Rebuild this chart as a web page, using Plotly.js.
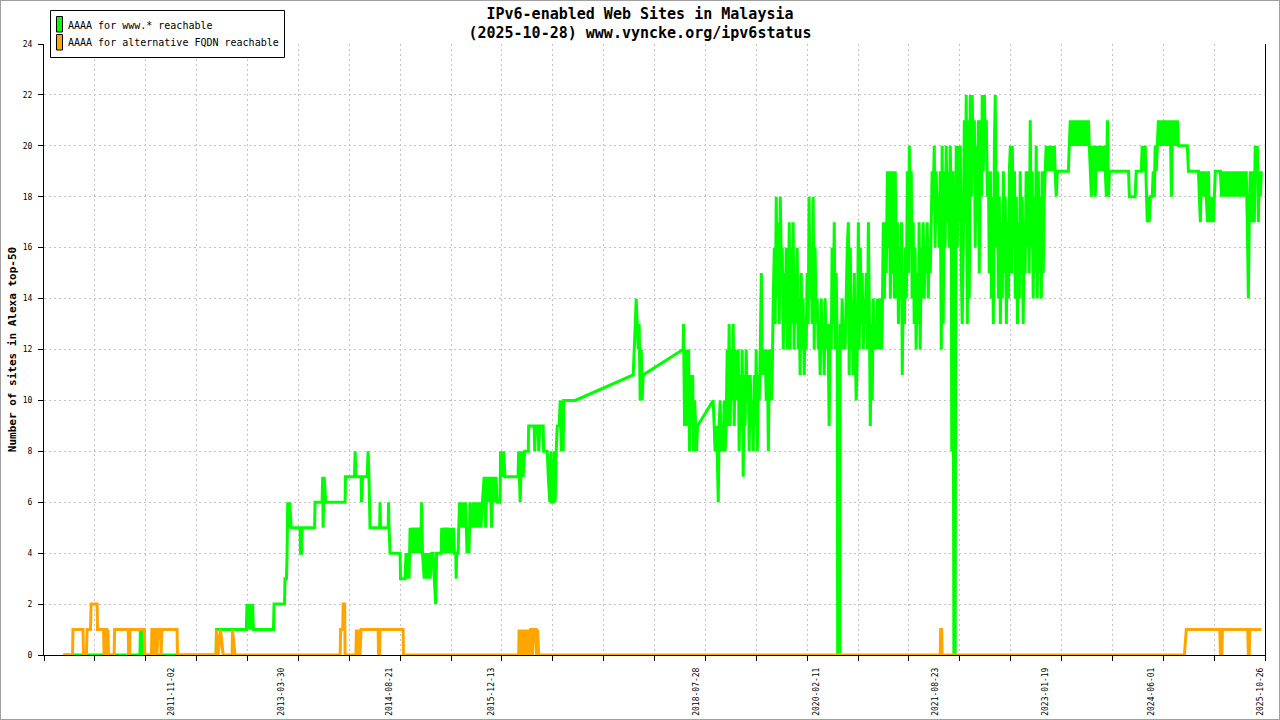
<!DOCTYPE html>
<html>
<head>
<meta charset="utf-8">
<script src="https://cdn.plot.ly/plotly-3.0.1.min.js"></script>
<style>
  body { margin: 0; background: #fff; }
  #wrap { position: relative; width: 1280px; height: 720px; }
  #frame { position: absolute; left: 0; top: 0; width: 1278px; height: 718px; border: 1px solid #a0a0a0; pointer-events: none; }
</style>
</head>
<body>
<div id="wrap">
  <div id="chart" style="width:1280px;height:720px;"></div>
  <div id="frame"></div>
</div>
<script>
// days counted from 2010-01-01, values = sites reachable
var greenDay = [
  147, 503, 505, 515, 517, 860, 862, 1002, 1005, 1011, 1016, 1024, 1031, 1035,
  1129, 1132, 1181, 1183, 1190, 1193, 1196, 1202, 1206, 1212, 1254, 1256, 1261, 1263,
  1322, 1324, 1357, 1360, 1362, 1367, 1374, 1465, 1467, 1509, 1512, 1516, 1540, 1542,
  1547, 1568, 1573, 1577, 1582, 1627, 1629, 1631, 1667, 1669, 1671, 1676, 1723, 1725,
  1746, 1751, 1756, 1760, 1765, 1770, 1777, 1784, 1791, 1798, 1805, 1812, 1819, 1824,
  1828, 1836, 1843, 1850, 1857, 1864, 1871, 1878, 1883, 1890, 1894, 1916, 1918, 1925,
  1932, 1939, 1946, 1953, 1960, 1966, 1973, 1977, 1984, 1986, 1988, 1995, 1998, 2002,
  2009, 2016, 2023, 2030, 2037, 2042, 2046, 2051, 2060, 2067, 2074, 2081, 2088, 2095,
  2102, 2109, 2117, 2124, 2131, 2138, 2145, 2152, 2159, 2166, 2173, 2178, 2192, 2194,
  2201, 2208, 2215, 2276, 2279, 2286, 2293, 2300, 2307, 2324, 2326, 2352, 2354, 2359,
  2371, 2373, 2378, 2394, 2396, 2413, 2418, 2425, 2430, 2434, 2441, 2446, 2450, 2455,
  2460, 2469, 2474, 2479, 2483, 2488, 2490, 2544, 2816, 2821, 2826, 2830, 2835, 2840,
  2844, 2849, 2854, 2858, 2863, 3050, 3052, 3057, 3062, 3066, 3071, 3076, 3080, 3085,
  3090, 3095, 3099, 3104, 3109, 3113, 3118, 3191, 3196, 3200, 3205, 3210, 3215, 3219,
  3224, 3229, 3233, 3238, 3243, 3247, 3252, 3257, 3261, 3266, 3271, 3276, 3280, 3285,
  3290, 3294, 3299, 3304, 3309, 3313, 3318, 3323, 3327, 3332, 3337, 3341, 3346, 3351,
  3356, 3360, 3365, 3370, 3374, 3379, 3384, 3388, 3393, 3398, 3403, 3407,
  3412, 3417, 3421, 3426, 3431, 3435, 3440, 3445, 3450, 3454,
  3459, 3464, 3468, 3473, 3478, 3482, 3487, 3492, 3497, 3501,
  3506, 3511, 3515, 3520, 3525, 3529, 3534, 3539, 3544, 3548,
  3552, 3557, 3561, 3566, 3571, 3575, 3580, 3585, 3590, 3594,
  3599, 3604, 3608, 3613, 3618, 3622, 3627, 3632, 3637, 3641,
  3646, 3651, 3655, 3660, 3665, 3669, 3674, 3679, 3684, 3688,
  3693, 3698, 3702, 3707, 3712, 3716, 3721, 3726, 3731, 3735,
  3740, 3745, 3749, 3754, 3759, 3763, 3768, 3773, 3775, 3785,
  3787, 3792, 3796, 3801, 3806, 3810, 3815, 3820, 3825, 3829,
  3834, 3839, 3843, 3848, 3853, 3857, 3862, 3867, 3872, 3876,
  3881, 3886, 3890, 3895, 3900, 3904, 3909, 3914, 3919, 3923,
  3928, 3933, 3937, 3942, 3947, 3951, 3956, 3961, 3966, 3970,
  3975, 3980, 3984, 3989, 3994, 3998, 4003, 4008, 4013, 4017,
  4022, 4027, 4031, 4036, 4041, 4045, 4050, 4055, 4060, 4064,
  4069, 4074, 4078, 4083, 4088, 4092, 4097, 4102, 4107, 4111,
  4115, 4120, 4124, 4129, 4134, 4138, 4143, 4148, 4153, 4157,
  4162, 4167, 4171, 4176, 4181, 4185, 4190, 4195, 4200, 4204,
  4209, 4214, 4218, 4223, 4228, 4232, 4237, 4242, 4247, 4251,
  4256, 4261, 4265, 4270, 4275, 4279, 4284, 4289, 4294, 4298,
  4303, 4308, 4310, 4315, 4320, 4326, 4329, 4331, 4336, 4341, 4345,
  4350, 4355, 4359, 4364, 4369, 4373, 4378, 4383, 4388, 4392,
  4397, 4402, 4406, 4411, 4416, 4420, 4425, 4430, 4435, 4439,
  4444, 4449, 4453, 4458, 4463, 4467, 4472, 4477, 4482, 4486,
  4491, 4496, 4500, 4505, 4510, 4514, 4519, 4524, 4529, 4533,
  4538, 4543, 4547, 4552, 4557, 4561, 4566, 4571, 4576, 4580,
  4585, 4590, 4594, 4599, 4604, 4608, 4613, 4618, 4623, 4627,
  4631, 4636, 4640, 4645, 4650, 4654, 4659, 4664, 4669, 4673,
  4678, 4683, 4687, 4692, 4697, 4701, 4706, 4711, 4716, 4720,
  4725, 4730, 4734, 4739, 4744, 4748, 4753, 4758, 4763, 4767,
  4772, 4777, 4781, 4786, 4791, 4795, 4800, 4805, 4810, 4857, 4861,
  4866, 4871, 4875, 4880, 4885, 4889, 4894, 4899, 4904, 4908,
  4913, 4918, 4922, 4927, 4932, 4936, 4941, 4946, 4951, 4955,
  4960, 4965, 4969, 4974, 4979, 4983, 4988, 4993, 4998, 5002,
  5007, 5012, 5016, 5021, 5026, 5030, 5035, 5040, 5045, 5049,
  5139, 5143, 5170, 5175, 5199, 5203, 5213, 5217, 5227, 5232, 5236, 5241, 5250,
  5255, 5260, 5264, 5269, 5274, 5279, 5283,
  5288, 5293, 5297, 5302, 5307, 5311, 5316, 5321, 5326, 5330,
  5335, 5340, 5344, 5349, 5354, 5358, 5363, 5368, 5373, 5415, 5420, 5467, 5471,
  5476, 5481, 5485, 5490, 5495, 5499, 5504, 5509, 5514, 5518,
  5523, 5528, 5532, 5537, 5546,
  5570, 5575, 5579, 5584, 5589, 5593, 5598, 5603, 5608, 5612,
  5617, 5622, 5626, 5631, 5636, 5640, 5645, 5650, 5655, 5659,
  5663, 5668, 5672, 5677, 5682, 5686, 5691, 5696, 5701, 5705,
  5710, 5715, 5719, 5724, 5729, 5733, 5738, 5743, 5748, 5752,
  5757, 5762
];
var greenVal = [
  0, 0, 1, 1, 0, 0, 1, 1, 2, 1, 2, 1, 2, 1,
  1, 2, 2, 3, 3, 4, 6, 5, 6, 5, 5, 4, 4, 5,
  5, 6, 6, 7, 5, 7, 6, 6, 7, 7, 8, 7, 7, 6,
  7, 7, 8, 7, 5, 5, 6, 5, 5, 6, 5, 4, 4, 3,
  3, 4, 3, 4, 3, 5, 4, 5, 4, 5, 4, 5, 4, 6,
  4, 3, 4, 3, 4, 3, 4, 4, 3, 2, 4, 4, 5, 4,
  5, 4, 5, 4, 5, 4, 5, 4, 4, 3, 4, 4, 5, 6,
  5, 6, 5, 6, 4, 5, 4, 6, 5, 6, 5, 6, 5, 6,
  5, 6, 7, 5, 7, 6, 7, 5, 7, 6, 7, 6, 6, 8,
  7, 8, 7, 7, 8, 6, 8, 7, 8, 8, 9, 9, 8, 9,
  9, 8, 9, 9, 8, 8, 7, 6, 8, 6, 6, 8, 6, 8,
  9, 9, 10, 8, 10, 8, 10, 10, 11, 12, 13, 14, 13, 12,
  13, 10, 12, 10, 11, 12, 13, 9, 12, 11, 9, 12, 8, 11,
  9, 11, 8, 10, 9, 8, 9, 10, 9, 8, 9, 8, 6, 9,
  10, 8, 9, 8, 10, 8, 9, 12, 9, 13, 9, 12, 10, 13,
  9, 12, 10, 11, 12, 8, 11, 9, 12, 7, 11, 9, 12, 10,
  11, 8, 11, 9, 10, 8, 11, 9, 12, 8, 11, 10,
  12, 15, 11, 12, 11, 12, 10, 12, 8, 11,
  12, 10, 11, 14, 16, 13, 18, 14, 17, 13,
  18, 15, 16, 12, 15, 13, 16, 12, 14, 17,
  12, 16, 13, 17, 12, 15, 13, 16, 12, 14,
  11, 15, 12, 14, 11, 13, 12, 15, 13, 18,
  14, 16, 13, 18, 12, 16, 13, 14, 12, 13,
  11, 14, 12, 13, 11, 14, 12, 13, 12, 9,
  13, 12, 16, 13, 17, 12, 15, 12, 0, 0,
  13, 12, 14, 12, 13, 12, 14, 16, 17, 11,
  16, 12, 14, 11, 15, 12, 10, 12, 17, 12,
  16, 13, 15, 12, 14, 13, 15, 12, 17, 14,
  9, 13, 10, 14, 12, 13, 12, 14, 13, 12,
  14, 12, 13, 17, 14, 17, 15, 19, 16, 19,
  14, 19, 15, 19, 14, 19, 14, 17, 13, 16,
  14, 17, 11, 15, 13, 16, 14, 19, 15, 20,
  16, 19, 14, 17, 13, 16, 12, 15, 13, 17,
  12, 16, 14, 17, 14, 16, 15, 17, 14, 16,
  15, 17, 19, 18, 20, 16, 19, 17, 18, 16,
  19, 12, 20, 13, 19, 16, 20, 17, 19, 16,
  20, 17, 8, 19, 0, 0, 18, 20, 16, 20, 17,
  20, 15, 13, 16, 21, 17, 22, 13, 21, 14,
  22, 18, 22, 19, 21, 16, 20, 17, 21, 15,
  21, 18, 22, 19, 22, 20, 21, 18, 19, 15,
  19, 14, 18, 13, 20, 22, 16, 19, 14, 18,
  13, 17, 14, 19, 15, 18, 13, 17, 14, 19,
  20, 15, 20, 16, 19, 14, 18, 13, 17, 14,
  19, 15, 18, 13, 17, 15, 19, 16, 19, 15,
  21, 16, 19, 14, 18, 15, 20, 14, 19, 15,
  18, 14, 19, 15, 18, 19, 20, 19, 20, 19,
  20, 19, 20, 19, 20, 19, 18, 19, 19, 19, 20,
  21, 20, 21, 20, 21, 20, 21, 20, 21, 20,
  21, 20, 21, 20, 21, 20, 21, 20, 21, 20,
  19, 18, 20, 19, 20, 18, 20, 19, 20, 19,
  20, 19, 20, 19, 20, 19, 18, 21, 18, 19,
  19, 18, 18, 19, 19, 20, 19, 20, 17, 18, 17, 18, 18,
  19, 18, 20, 19, 20, 21, 20,
  21, 20, 21, 20, 21, 20, 21, 20, 21, 20,
  21, 18, 20, 21, 20, 21, 20, 21, 20, 20, 19, 19, 18,
  17, 19, 18, 19, 18, 19, 18, 17, 19, 17,
  18, 17, 18, 17, 19,
  19, 18, 19, 18, 19, 18, 19, 18, 19, 18,
  19, 18, 19, 18, 19, 18, 19, 18, 19, 18,
  19, 18, 19, 18, 19, 18, 19, 17, 14, 17,
  19, 17, 18, 19, 17, 20, 19, 20, 17, 19,
  18, 19
];

var orangeDay = [
  142, 187, 189, 236, 238, 252, 255, 271, 274, 302, 304, 332, 335, 339, 346, 349, 353, 356,
  382, 384, 448, 450, 455, 456, 524, 526, 557, 559, 566, 569, 573, 580, 583, 587, 599, 602,
  606, 677, 679, 860, 862, 870, 881, 893, 935, 937, 949,
  1442, 1444, 1454, 1456, 1463, 1465, 1516, 1518, 1526, 1530, 1535, 1540, 1620, 1622, 1627, 1629,
  1737, 1739, 2279, 2281, 2286, 2291, 2298, 2302, 2309, 2314, 2319, 2324, 2331, 2335, 2342, 2344,
  2351, 2361, 2363, 2368, 2373,
  4256, 4258, 4263, 4265, 5401, 5410, 5567, 5570, 5577, 5579, 5698, 5701, 5705, 5708, 5762
];
var orangeVal = [
  0, 0, 1, 1, 0, 0, 1, 1, 2, 2, 1, 1, 0, 1, 1, 0, 1, 0,
  0, 1, 1, 0, 0, 1, 1, 0, 0, 1, 1, 0, 1, 1, 0, 1, 1, 0,
  1, 1, 0, 0, 1, 0, 1, 0, 0, 1, 0,
  0, 1, 1, 2, 2, 0, 0, 1, 0, 1, 0, 1, 1, 0, 0, 1,
  1, 0, 0, 1, 0, 1, 0, 1, 0, 1, 0, 1, 0, 1, 1, 0,
  1, 1, 0, 1, 0,
  0, 1, 1, 0, 0, 1, 1, 0, 0, 1, 1, 0, 0, 1, 1
];

var labelDates = ['2011-11-02', '2013-03-30', '2014-08-21', '2015-12-13', '2018-07-28',
                  '2020-02-11', '2021-08-23', '2023-01-19', '2024-06-01', '2025-10-26'];
var xStart = '2010-02-23';
var xEnd = '2025-10-28';

var EPOCH = Date.UTC(2010, 0, 1);
var DAY = 86400000;
function toDate(d) { return new Date(EPOCH + d * DAY).toISOString().slice(0, 10); }

var MONO = 'DejaVu Sans Mono, Liberation Mono, monospace';
var GRID = '#c4c4c4';

// plot box in pixels (for legend placement)
var L = 44, R = 1265, T = 44, B = 655;
function px(p) { return (p - L) / (R - L); }
function py(p) { return (B - p) / (B - T); }

var green = {
  x: greenDay.map(toDate), y: greenVal, type: 'scatter', mode: 'lines',
  line: {color: '#00ff00', width: 3, simplify: false}, xaxis: 'x', yaxis: 'y',
  name: 'AAAA for www.* reachable', hoverinfo: 'skip'
};
var orange = {
  x: orangeDay.map(toDate), y: orangeVal, type: 'scatter', mode: 'lines',
  line: {color: '#ffa500', width: 3, simplify: false}, xaxis: 'x', yaxis: 'y',
  name: 'AAAA for alternative FQDN reachable', hoverinfo: 'skip'
};
var labelHolder = {x: [], y: [], type: 'scatter', xaxis: 'x2', yaxis: 'y', hoverinfo: 'skip'};

var gridStep = (Date.parse(xEnd) - Date.parse(xStart)) / 24;
// gnuplot sets its rotated labels a few pixels left of the date; shift the label axis alike
var labelShift = 19 * DAY;
var x2Range = [Date.parse(xStart) + labelShift, Date.parse(xEnd) + labelShift];

var layout = {
  width: 1280, height: 720,
  margin: {l: L, r: 1280 - R, t: T, b: 720 - B},
  paper_bgcolor: '#fff', plot_bgcolor: '#fff',
  showlegend: false,
  title: {
    text: 'IPv6-enabled Web Sites in Malaysia<br>(2025-10-28) www.vyncke.org/ipv6status',
    font: {family: MONO, size: 15, color: '#000', weight: 'bold'},
    x: 0.5, xref: 'container', xanchor: 'center',
    y: 0.974, yref: 'container', yanchor: 'top'
  },
  xaxis: {
    type: 'date', range: [xStart, xEnd],
    tickmode: 'linear', tick0: xStart, dtick: gridStep,
    showticklabels: false, ticks: 'outside', ticklen: 5, tickcolor: '#000',
    showgrid: true, gridcolor: GRID, griddash: '2px,3px', gridwidth: 1,
    showline: true, linecolor: '#000', linewidth: 1, zeroline: false
  },
  xaxis2: {
    type: 'date', range: x2Range, overlaying: 'x', anchor: 'y', side: 'bottom',
    tickmode: 'array', tickvals: labelDates, ticktext: labelDates,
    tickangle: -90, ticks: '', showgrid: false, showline: false, zeroline: false,
    tickfont: {family: MONO, size: 8, color: '#000'}, ticklabelstandoff: 10
  },
  yaxis: {
    range: [0, 24], tickmode: 'linear', tick0: 0, dtick: 2,
    ticks: 'outside', ticklen: 5, tickcolor: '#000',
    tickfont: {family: MONO, size: 8, color: '#000'}, ticklabelstandoff: 4,
    showgrid: true, gridcolor: GRID, griddash: '2px,3px', gridwidth: 1,
    showline: true, linecolor: '#000', linewidth: 1, mirror: true, zeroline: false,
    title: {text: 'Number of sites in Alexa top-50', standoff: 3,
            font: {family: MONO, size: 11, color: '#000', weight: 'bold'}}
  },
  shapes: [
    {type: 'rect', xref: 'paper', yref: 'paper', x0: px(50.5), x1: px(284.5), y0: py(57.5), y1: py(10.5),
     line: {color: '#000', width: 1}, fillcolor: '#fff', layer: 'above'},
    {type: 'rect', xref: 'paper', yref: 'paper', x0: px(56.5), x1: px(62.5), y0: py(32), y1: py(16.5),
     line: {color: '#000', width: 1}, fillcolor: '#00ff00', layer: 'above'},
    {type: 'rect', xref: 'paper', yref: 'paper', x0: px(56.5), x1: px(62.5), y0: py(50), y1: py(34.5),
     line: {color: '#000', width: 1}, fillcolor: '#ffa500', layer: 'above'}
  ],
  annotations: [
    {xref: 'paper', yref: 'paper', x: px(66), y: py(25), xanchor: 'left', yanchor: 'middle',
     text: green.name, showarrow: false, font: {family: MONO, size: 10, color: '#000'}},
    {xref: 'paper', yref: 'paper', x: px(66), y: py(43), xanchor: 'left', yanchor: 'middle',
     text: orange.name, showarrow: false, font: {family: MONO, size: 10, color: '#000'}}
  ]
};

Plotly.newPlot('chart', [green, orange, labelHolder], layout, {displayModeBar: false, staticPlot: true});
</script>
</body>
</html>
